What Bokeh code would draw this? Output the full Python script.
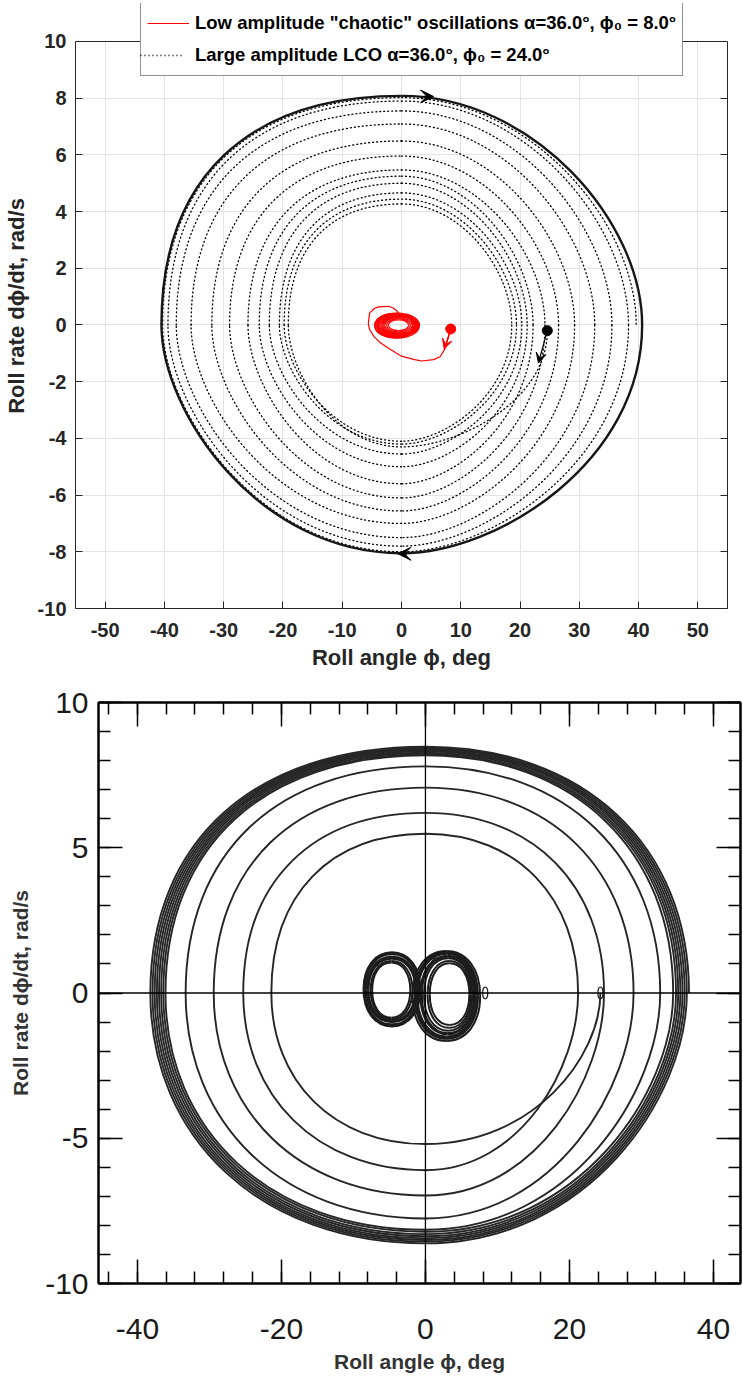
from bokeh.plotting import figure
from bokeh.core.properties import value
from bokeh.models import (Range1d, LinearAxis, SingleIntervalTicker, Span, Arrow, BoxAnnotation,
                          VeeHead, Legend, LegendItem, ColumnDataSource, CustomJSTickFormatter)
from bokeh.embed import file_html
from bokeh.resources import INLINE

# ======================= DATA =======================
# ---- Top panel: large amplitude LCO (alpha=36 deg, phi0=24 deg), axis crossings in visiting order
lco_start = [24.6, -0.2]
lco_bottom = [-4.3, -4.1, -4.2, -4.55, -5.0, -5.6, -6.1, -6.56, -7.0, -7.5, -7.8, -8.0]
lco_left = [-19.1, -19.8, -20.6, -22.3, -24.0, -25.9, -29.0, -32.0, -35.5, -38.0, -39.4, -40.3]
lco_top = [4.27, 4.44, 4.66, 5.0, 5.25, 5.47, 5.96, 6.49, 7.09, 7.55, 7.9, 8.02]
lco_right = [18.6, 19.4, 20.3, 21.2, 22.2, 24.2, 26.5, 29.2, 32.6, 35.5, 38.3, 39.6]
# converged limit cycle (right, bottom, left, top)
lc_cycle = [40.6, -8.05, -40.5, 8.08]
# arrows on the limit cycle: x, y, direction (+1 right / -1 left)
lc_arrow_x = [5.4, -0.6]
lc_arrow_y = [8.06, -8.07]
lc_arrow_dir = [1, -1]
# start arrow of the LCO run (from, to)
lco_arrow = [24.6, -0.2, 23.1, -1.34]

# ---- Top panel: low amplitude "chaotic" run (alpha=36 deg, phi0=8 deg)
chaos_start = [8.3, -0.14]
chaos_arrow = [8.3, -0.14, 7.2, -0.85]
chaos_path_x = [8.3, 7.9, 7.3, 6.5, 5.4, 3.4, 2.2, 0.0, -2.2, -3.6, -4.6, -5.4, -5.6, -5.4, -4.6, -3.9, -2.2, -1.4, -0.8, -0.3]
chaos_path_y = [-0.14, -0.45, -0.85, -1.12, -1.22, -1.27, -1.22, -1.1, -0.82, -0.62, -0.42, -0.15, 0.05, 0.42, 0.58, 0.64, 0.66, 0.6, 0.5, 0.38]
red_xmin = [-4.5, -4.2, -3.9, -3.5, -4.4, -3.0, -4.0, -3.3, -4.5, -2.8, -3.7, -4.1, -2.5, -3.2, -2.2]
red_xmax = [3.0, 2.6, 2.9, 2.2, 1.9, 2.7, 2.3, 3.0, 2.5, 1.8, 2.8, 2.1, 1.5, 2.4, 1.2]
red_ymax = [0.42, 0.38, 0.35, 0.30, 0.40, 0.28, 0.37, 0.33, 0.41, 0.26, 0.32, 0.39, 0.22, 0.3, 0.18]
red_ymin = [-0.46, -0.42, -0.37, -0.32, -0.43, -0.30, -0.40, -0.35, -0.45, -0.28, -0.36, -0.41, -0.24, -0.33, -0.2]

legend_labels = ['Low amplitude "chaotic" oscillations \u03b1=36.0\u00b0, \u03d5\u2080 = 8.0\u00b0',
                 'Large amplitude LCO \u03b1=36.0\u00b0, \u03d5\u2080 = 24.0\u00b0']

# ---- Bottom panel: spiral to the large LCO, axis crossings in visiting order
bsp_start = [24.3, 0.0]
bsp_bottom = [-5.2, -6.1, -6.97, -7.76, -8.15, -8.22, -8.3, -8.37, -8.44, -8.5, -8.56, -8.62]
bsp_left = [-21.4, -25.3, -29.4, -33.3, -36.1, -36.4, -36.7, -37.0, -37.3, -37.6, -37.9, -38.2]
bsp_top = [5.48, 6.2, 7.07, 7.8, 8.18, 8.22, 8.27, 8.32, 8.36, 8.4, 8.44, 8.48]
bsp_right = [21.2, 24.8, 28.9, 32.6, 34.4, 34.8, 35.1, 35.4, 35.7, 36.0, 36.3, 36.6]
# Bottom panel: figure-eight ("chaotic") attractor, loops of the two lobes
left_xmin = [-8.6, -8.4, -8.2, -7.9, -7.6, -8.5, -8.0, -7.4]
left_xmax = [-0.7, -0.9, -1.1, -1.4, -1.8, -0.8, -1.2, -2.1]
left_ymin = [-1.15, -1.08, -1.0, -0.95, -0.9, -1.12, -0.98, -0.85]
left_ymax = [1.4, 1.33, 1.25, 1.18, 1.1, 1.36, 1.22, 1.05]
right_xmin = [-1.8, -1.5, -1.1, -0.7, -0.2, 0.3, -1.3, -0.5, 0.6]
right_xmax = [7.6, 7.3, 7.0, 6.8, 6.5, 6.3, 7.2, 6.7, 6.1]
right_ymin = [-1.65, -1.58, -1.5, -1.42, -1.3, -1.2, -1.55, -1.38, -1.1]
right_ymax = [1.45, 1.4, 1.35, 1.28, 1.2, 1.1, 1.38, 1.25, 1.02]
chaos2_start = [8.3, 0.0]
# ===========================================================================


def add_chain(seg, pts, first_kind, kq, center=(0.0, 0.0)):
    """Cubic Bezier quarter arcs between successive axis-extreme points."""
    cx, cy = center
    kind = first_kind
    for (x0, y0), (x3, y3) in zip(pts[:-1], pts[1:]):
        if kind == "h":
            q = ("T" if y3 > cy else "B") + ("R" if x0 > cx else "L")
            kh, kv = kq[q]
            c0 = (x0, y0 + kh * (y3 - y0))
            c1 = (x3 + kv * (x0 - x3), y3)
            kind = "v"
        else:
            q = ("T" if y0 > cy else "B") + ("R" if x3 > cx else "L")
            kh, kv = kq[q]
            c0 = (x0 + kv * (x3 - x0), y0)
            c1 = (x3, y3 + kh * (y0 - y3))
            kind = "h"
        seg["x0"].append(x0); seg["y0"].append(y0)
        seg["x1"].append(x3); seg["y1"].append(y3)
        seg["cx0"].append(c0[0]); seg["cy0"].append(c0[1])
        seg["cx1"].append(c1[0]); seg["cy1"].append(c1[1])


def new_seg():
    return {k: [] for k in ("x0", "y0", "x1", "y1", "cx0", "cy0", "cx1", "cy1")}


def spiral_points(start, bottom, left, top, right):
    pts = [tuple(start)]
    for b, l, t, r in zip(bottom, left, top, right):
        pts += [(0.0, b), (l, 0.0), (0.0, t), (r, 0.0)]
    return pts


def loop_points(xmin, xmax, ymin, ymax):
    cx = 0.5 * (xmin + xmax)
    cy = 0.5 * (ymin + ymax)
    return [(xmax, cy), (cx, ymin), (xmin, cy), (cx, ymax), (xmax, cy)], (cx, cy)


def draw_bez(fig, seg, **kw):
    return fig.bezier(source=ColumnDataSource(seg), x0="x0", y0="y0", x1="x1", y1="y1",
                      cx0="cx0", cy0="cy0", cx1="cx1", cy1="cy1", **kw)


int_fmt = CustomJSTickFormatter(code="return tick.toFixed(0)")
empty = CustomJSTickFormatter(code="return ''")

# ---------------------------------------------------------------- TOP PANEL
TF = "Liberation Sans"
AX = "#262626"
top = figure(frame_width=652, frame_height=605, min_border_left=74, min_border_right=17,
             min_border_top=3, min_border_bottom=77, output_backend="svg",
             toolbar_location=None, x_range=Range1d(-55, 55), y_range=Range1d(-10, 11.34))
top.outline_line_color = None

for ax in (top.xaxis[0], top.yaxis[0]):
    ax.formatter = int_fmt
    ax.major_label_text_font = TF
    ax.major_label_text_font_style = "bold"
    ax.major_label_text_font_size = "20px"
    ax.major_label_text_color = AX
    ax.axis_label_text_font = TF
    ax.axis_label_text_font_style = "bold"
    ax.axis_label_text_font_size = "22px"
    ax.axis_label_text_color = AX
    ax.major_tick_in = 7
    ax.major_tick_out = 0
    ax.minor_tick_line_color = None
    ax.axis_line_color = AX
    ax.major_tick_line_color = AX
top.xaxis.ticker = SingleIntervalTicker(interval=10, num_minor_ticks=0)
top.yaxis.ticker = SingleIntervalTicker(interval=2, num_minor_ticks=0)
top.yaxis.bounds = (-10, 10)
top.xaxis.axis_label = "Roll angle \u03d5, deg"
top.yaxis.axis_label = "Roll rate d\u03d5/dt, rad/s"
top.xaxis.major_label_standoff = 14
top.yaxis.major_label_standoff = 9
top.xaxis.axis_label_standoff = 5
top.yaxis.axis_label_standoff = 6
top.xgrid.ticker = top.xaxis.ticker
top.ygrid.ticker = top.yaxis.ticker
top.grid.grid_line_color = "#e3e3e3"
top.grid.grid_line_width = 1

ra = LinearAxis(ticker=SingleIntervalTicker(interval=2, num_minor_ticks=0), formatter=empty,
                major_tick_in=7, major_tick_out=0, minor_tick_line_color=None,
                major_label_standoff=0, axis_line_color=AX, major_tick_line_color=AX,
                bounds=(-10, 10))
top.add_layout(ra, "right")

KQ_TOP = {"TL": (0.64, 0.64), "TR": (0.45, 0.55), "BR": (0.6, 0.4), "BL": (0.38, 0.60)}
seg = new_seg()
add_chain(seg, spiral_points(lco_start, lco_bottom, lco_left, lco_top, lco_right), "h", KQ_TOP)
draw_bez(top, seg, line_color="black", line_width=1.3, line_dash="1 3", line_cap="round")
r_, b_, l_, t_ = lc_cycle
seg = new_seg()
add_chain(seg, [(r_, 0.0), (0.0, b_), (l_, 0.0), (0.0, t_), (r_, 0.0)], "h", KQ_TOP)
draw_bez(top, seg, line_color="#161616", line_width=2.4)
for ax_, ay_, d_ in zip(lc_arrow_x, lc_arrow_y, lc_arrow_dir):
    top.add_layout(Arrow(end=VeeHead(size=13, fill_color="black", line_color="black"),
                         x_start=ax_ - 1.5 * d_, y_start=ay_, x_end=ax_, y_end=ay_,
                         line_color="black", line_width=2))

seg = new_seg()
for a, b, c, d in zip(red_xmin, red_xmax, red_ymin, red_ymax):
    pts, cen = loop_points(a, b, c, d)
    add_chain(seg, pts, "h", {q: (0.58, 0.58) for q in ("TL", "TR", "BL", "BR")}, cen)
draw_bez(top, seg, line_color="#ff0000", line_width=1.3)
red_line = top.line(chaos_path_x, chaos_path_y, line_color="#ff0000", line_width=1.2)
top.add_layout(Arrow(end=VeeHead(size=10, fill_color="#ff0000", line_color="#ff0000"),
                     x_start=chaos_arrow[0], y_start=chaos_arrow[1],
                     x_end=chaos_arrow[2], y_end=chaos_arrow[3],
                     line_color="#ff0000", line_width=1.2))
top.add_layout(Arrow(end=VeeHead(size=10, fill_color="black", line_color="black"),
                     x_start=lco_arrow[0], y_start=lco_arrow[1],
                     x_end=lco_arrow[2], y_end=lco_arrow[3],
                     line_color="black", line_width=1.2))
# legend handles for the dotted run
dotted_empty = top.line([], [], line_color="black", line_width=1.3, line_dash="1 3")
dotted_leg = top.line([lco_start[0], lco_start[0]], [lco_start[1], lco_start[1]],
                      line_color="black", line_width=1.3, line_dash="1 3")
top.scatter([chaos_start[0]], [chaos_start[1]], size=10, color="#ff0000")
top.scatter([lco_start[0]], [lco_start[1]], size=10, color="black")

# blank area above the axes box, top edge of the box
top.add_layout(BoxAnnotation(bottom=10, fill_color="white", fill_alpha=1, line_color=None))
top.add_layout(Span(location=10, dimension="width", line_color=AX, line_width=1))

LEG = dict(margin=0, padding=6, spacing=4, label_height=28, glyph_height=28, glyph_width=42,
           label_standoff=6, label_text_font=TF, label_text_font_style="bold",
           label_text_font_size="18.5px", label_text_color="black")
legend = Legend(items=[LegendItem(label=legend_labels[0], renderers=[red_line]),
                       LegendItem(label=legend_labels[1], renderers=[dotted_empty])],
                border_line_color=AX, border_line_width=1,
                background_fill_color="white", background_fill_alpha=1, **LEG)
legend.location = (65, 532)
top.add_layout(legend, "center")
# dotted handle of the second legend row
legend_dot = Legend(items=[LegendItem(label=value(""), renderers=[dotted_leg])],
                    border_line_color=None, background_fill_alpha=0, **LEG)
legend_dot.location = (65, 539)
top.add_layout(legend_dot, "center")

# ------------------------------------------------------------- BOTTOM PANEL
BC = "#262626"
bot = figure(frame_width=642, frame_height=581, min_border_left=98, min_border_right=3,
             min_border_top=17, min_border_bottom=97, output_backend="svg",
             toolbar_location=None, x_range=Range1d(-45.4, 43.75), y_range=Range1d(-10, 10))
bot.grid.visible = False
bot.outline_line_color = "black"
bot.outline_line_width = 2
bot.xaxis.ticker = SingleIntervalTicker(interval=20, num_minor_ticks=5)
bot.yaxis.ticker = SingleIntervalTicker(interval=5, num_minor_ticks=5)
for ax in (bot.xaxis[0], bot.yaxis[0]):
    ax.formatter = int_fmt
    ax.major_label_text_font = TF
    ax.major_label_text_font_size = "30px"
    ax.major_label_text_color = "#1a1a1a"
    ax.axis_label_text_font = TF
    ax.axis_label_text_font_style = "bold"
    ax.axis_label_text_font_size = "21px"
    ax.axis_label_text_color = "#333333"
    ax.major_tick_in = 24
    ax.major_tick_out = 0
    ax.minor_tick_in = 12
    ax.minor_tick_out = 0
    ax.axis_line_width = 2
    ax.major_tick_line_width = 1.5
    ax.minor_tick_line_width = 1.5
bot.xaxis.axis_label = "Roll angle \u03d5, deg"
bot.yaxis.axis_label = "Roll rate d\u03d5/dt, rad/s"
bot.xaxis.major_label_standoff = 35
bot.yaxis.major_label_standoff = 10
bot.xaxis.axis_label_standoff = 8
bot.yaxis.axis_label_standoff = 10
for side, tk in (("above", SingleIntervalTicker(interval=20, num_minor_ticks=5)),
                 ("right", SingleIntervalTicker(interval=5, num_minor_ticks=5))):
    a = LinearAxis(ticker=tk, formatter=empty, major_tick_in=24, major_tick_out=0,
                   minor_tick_in=12, minor_tick_out=0, major_label_standoff=0,
                   axis_line_width=2, major_tick_line_width=1.5, minor_tick_line_width=1.5)
    bot.add_layout(a, side)

bot.add_layout(Span(location=0, dimension="width", line_color="black", line_width=1.3))
bot.add_layout(Span(location=0, dimension="height", line_color="black", line_width=1.3))

KQ_BOT = {"TL": (0.62, 0.62), "TR": (0.6, 0.6), "BR": (0.42, 0.62), "BL": (0.58, 0.6)}
seg = new_seg()
add_chain(seg, spiral_points(bsp_start, bsp_bottom, bsp_left, bsp_top, bsp_right), "h", KQ_BOT)
draw_bez(bot, seg, line_color=BC, line_width=1.9)

seg = new_seg()
for xs, xe, ys, ye in ((left_xmin, left_xmax, left_ymin, left_ymax),
                       (right_xmin, right_xmax, right_ymin, right_ymax)):
    for a, b, c, d in zip(xs, xe, ys, ye):
        pts, cen = loop_points(a, b, c, d)
        add_chain(seg, pts, "h", {q: (0.6, 0.6) for q in ("TL", "TR", "BL", "BR")}, cen)
draw_bez(bot, seg, line_color="#1c1c1c", line_width=2.0)
bot.ellipse(x=[bsp_start[0], chaos2_start[0]], y=[bsp_start[1], chaos2_start[1]],
            width=0.7, height=0.4, fill_color=None, line_color=BC, line_width=1.3)

open("out.html", "w").write(file_html([top, bot], INLINE))
